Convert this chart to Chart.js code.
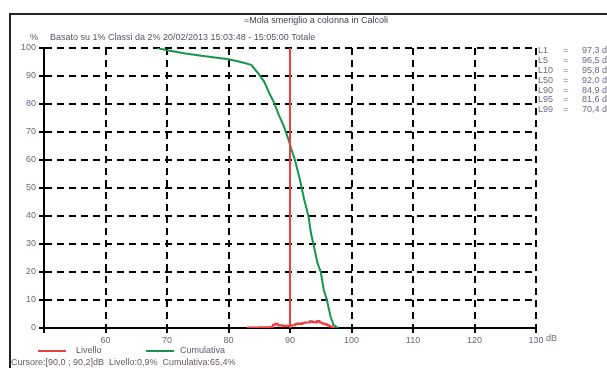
<!DOCTYPE html>
<html>
<head>
<meta charset="utf-8">
<script src="https://cdn.jsdelivr.net/npm/chart.js@4.4.1/dist/chart.umd.min.js"></script>
<style>
  html, body { margin: 0; padding: 0; background: #fff; }
  #wrap { width: 607px; height: 368px; position: relative; }
</style>
</head>
<body>
<div id="wrap"><canvas id="c" width="607" height="368"></canvas></div>
<script>
// testi
const title = '=Mola smeriglio a colonna in Calcoli';
const subtitle = 'Basato su 1% Classi da 2% 20/02/2013 15:03:48 - 15:05:00 Totale';
const cursorText = 'Cursore:[90,0 ; 90,2]dB  Livello:0,9%  Cumulativa:65,4%';

// livelli percentili
const statNames = ['L1', 'L5', 'L10', 'L50', 'L90', 'L95', 'L99'];
const statValues = ['97,3 dB', '96,5 dB', '95,8 dB', '92,0 dB', '84,9 dB', '81,6 dB', '70,4 dB'];

// curva cumulativa (dB, %)
const cumDb  = [68.4, 70, 73, 75.6, 80, 82, 83.7, 84.8, 85.8, 86.6, 87.4, 88.2, 89, 89.8, 90.2, 90.8, 91.5, 91.9, 92.3, 93, 93.4, 93.8, 94.5, 95, 95.5, 96, 96.6, 97.1, 97.6, 97.9];
const cumPct = [100, 99.2, 98, 97.2, 96, 95, 94, 91, 88, 84, 80.5, 76, 72, 67, 64, 60, 54, 50, 46, 40, 34, 30, 23, 20, 13.5, 10, 4, 1, 0.3, 0];

// distribuzione livello (dB, %)
const levelDb  = [83.0, 84.0, 85.0, 86.0, 86.8, 87.2, 87.6, 88.0, 88.4, 88.8, 89.2, 89.6, 90.0, 90.4, 90.8, 91.2, 91.6, 92.0, 92.4, 92.8, 93.2, 93.6, 94.0, 94.4, 94.8, 95.2, 95.6, 96.0, 96.4, 96.8, 97.2];
const levelPct = [0.2, 0.2, 0.3, 0.3, 0.4, 1.2, 1.5, 0.9, 1.0, 0.6, 0.8, 0.7, 0.9, 1.0, 1.3, 1.6, 1.4, 1.8, 2.0, 2.0, 2.4, 2.1, 2.0, 2.5, 2.0, 1.6, 1.3, 1.0, 0.5, 0.2, 0];

// cursore
const cursorDb = [90, 90];
const cursorPct = [0, 100];

const FONT = "'Liberation Sans', Arial, sans-serif";
const RED = '#e8403c';
const GREEN = '#16964a';

const toPts = (xs, ys) => xs.map((x, i) => ({ x: x, y: ys[i] }));

const decor = {
  id: 'decor',
  beforeDraw(chart) {
    const c = chart.ctx;
    c.save();
    c.fillStyle = '#fff';
    c.fillRect(0, 0, chart.width, chart.height);
    c.strokeStyle = '#222';
    c.lineWidth = 2;
    c.strokeRect(10, 14, 700, 400);
    c.restore();
  },
  afterDraw(chart) {
    const c = chart.ctx;
    const xs = chart.scales.x;
    c.save();
    c.font = '9px ' + FONT;
    c.textBaseline = 'middle';

    c.fillStyle = '#3c3c4c';
    c.textAlign = 'center';
    c.fillText(title, 316, 21);

    c.textAlign = 'left';
    c.fillStyle = '#555568';
    c.fillText('%', 30, 38);
    c.fillText(subtitle, 50, 38);

    // dB accanto all'asse
    c.fillStyle = '#6a6a80';
    c.fillText('dB', xs.right + 10, 339);

    // percentili
    statNames.forEach((n, i) => {
      const y = 51 + i * 9.8;
      c.fillStyle = '#6e6a8a';
      c.fillText(n, 538, y);
      c.fillText('=', 563, y);
      c.fillText(statValues[i], 582, y);
    });

    // legenda
    const items = [[38, 76], [146, 180]];
    items.forEach((p, i) => {
      const ds = chart.data.datasets[i];
      c.strokeStyle = ds.borderColor;
      c.lineWidth = 2;
      c.beginPath();
      c.moveTo(p[0], 351);
      c.lineTo(p[0] + 28, 351);
      c.stroke();
      c.fillStyle = '#5a5a70';
      c.fillText(ds.label, p[1], 351);
    });

    c.fillStyle = '#6a5a60';
    c.fillText(cursorText, 11, 363);
    c.restore();
  }
};

const dashGrid = ctx => ctx.type === 'tick' ? [7, 5] : [];

new Chart(document.getElementById('c'), {
  type: 'line',
  data: {
    datasets: [
      { label: 'Livello', data: toPts(levelDb, levelPct), borderColor: RED, borderWidth: 2, pointRadius: 0, stepped: true, order: 1 },
      { label: 'Cumulativa', data: toPts(cumDb, cumPct), borderColor: GREEN, borderWidth: 2, pointRadius: 0, tension: 0, order: 2 },
      { label: 'Cursore', data: toPts(cursorDb, cursorPct), borderColor: RED, borderWidth: 2, pointRadius: 0, order: 0 }
    ]
  },
  options: {
    responsive: false,
    animation: false,
    devicePixelRatio: 1,
    layout: { padding: { top: 48, right: 71, left: 0, bottom: 0 } },
    plugins: { legend: { display: false }, tooltip: { enabled: false } },
    scales: {
      x: {
        type: 'linear',
        min: 50,
        max: 130,
        afterFit: s => { s.height = 40; },
        ticks: {
          stepSize: 10,
          maxRotation: 0,
          padding: 2,
          color: '#6a6a80',
          font: { family: FONT, size: 9 },
          callback: v => v === 50 ? '' : v
        },
        grid: { color: '#000', lineWidth: 2, tickLength: 5, tickBorderDash: [], tickColor: '#000', tickWidth: 2 },
        border: { display: true, color: '#000', width: 2, dash: dashGrid }
      },
      y: {
        min: 0,
        max: 100,
        afterFit: s => { s.width = 44; },
        ticks: {
          stepSize: 10,
          padding: 3,
          color: '#6a6a80',
          font: { family: FONT, size: 9 }
        },
        grid: { color: '#000', lineWidth: 2, tickLength: 5, tickBorderDash: [], tickColor: '#000', tickWidth: 2 },
        border: { display: true, color: '#000', width: 2, dash: dashGrid }
      }
    }
  },
  plugins: [decor]
});
</script>
</body>
</html>
